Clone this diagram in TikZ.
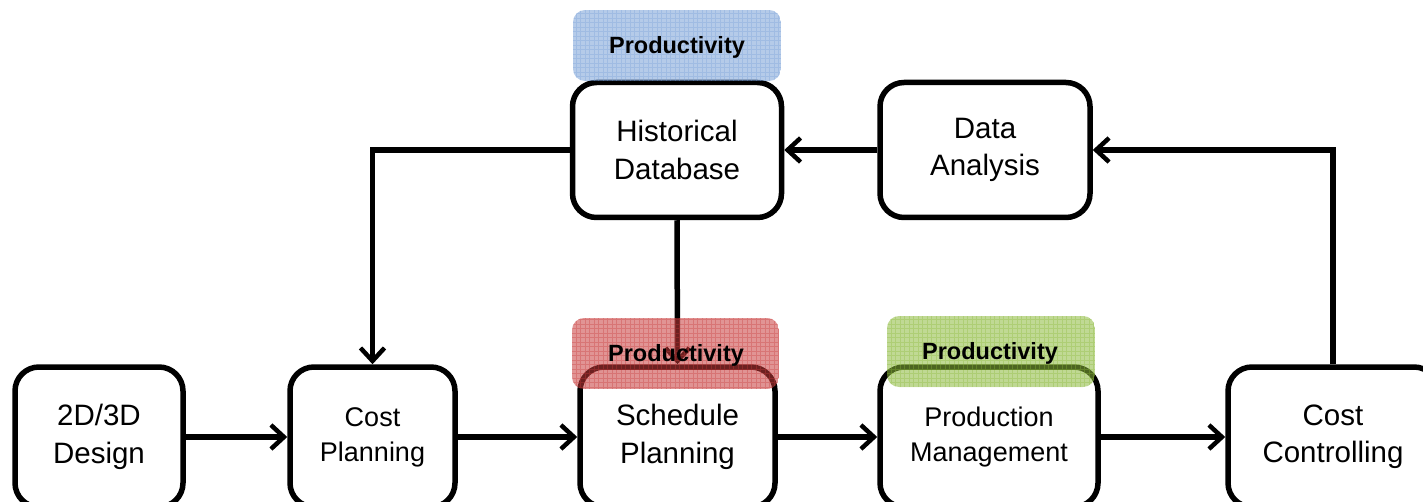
\documentclass[tikz,border=0pt]{standalone}
\usepackage{fontspec}
\setmainfont{Liberation Sans}
\usetikzlibrary{arrows.meta}
\definecolor{pblue}{RGB}{120,160,215}
\definecolor{pred}{RGB}{200,60,60}
\definecolor{pgreen}{RGB}{140,185,60}
\tikzset{
  box/.style={draw=black, line width=5.5pt, rounded corners=24pt, fill=white, align=center, inner sep=0pt},
  bigtext/.style={font=\fontsize{29.5}{37.5}\selectfont},
  smalltext/.style={font=\fontsize{27}{35}\selectfont},
  conn/.style={line width=5.5pt, -{Straight Barb[length=13pt,width=24pt,line width=4.5pt]}},
  prodlbl/.style={font=\fontsize{23.5}{28}\selectfont\bfseries}
}
\newcommand{\prodpatch}[5]{%
  \begin{scope}
    \clip[rounded corners=12pt] (#1,#2) rectangle (#3,#4);
    \fill[#5, opacity=0.55] (#1,#2) rectangle (#3,#4);
    \draw[#5, opacity=0.35, line width=0.8pt, step=4.5pt] (#1,#2) grid (#3,#4);
  \end{scope}}
\begin{document}
\begin{tikzpicture}[x=1pt,y=-1pt]
\useasboundingbox (0,0) rectangle (1423,502);
% nodes
\node[box, bigtext, minimum width=168pt, minimum height=140pt] (design) at (99,437) {2D/3D\\Design};
\node[box, smalltext, minimum width=165pt, minimum height=140pt] (costp) at (372.5,437) {Cost\\Planning};
\node[box, bigtext, minimum width=195pt, minimum height=140pt] (sched) at (677.5,437) {Schedule\\Planning};
\node[box, smalltext, minimum width=218pt, minimum height=140pt] (prod) at (989,437) {Production\\Management};
\node[box, bigtext, minimum width=210pt, minimum height=140pt] (costc) at (1333,437) {Cost\\Controlling};
\node[box, bigtext, minimum width=209pt, minimum height=135pt] (hist) at (677,150) {Historical\\Database};
\node[box, bigtext, minimum width=210pt, minimum height=135pt] (data) at (985,150) {Data\\Analysis};
% connectors
\draw[conn] (design.east) -- (costp.west);
\draw[conn] (costp.east) -- (sched.west);
\draw[conn] (sched.east) -- (prod.west);
\draw[conn] (prod.east) -- (costc.west);
\draw[conn] (costc.north) |- (data.east);
\draw[conn] (data.west) -- (hist.east);
\draw[conn] (hist.west) -| (costp.north);
\draw[conn] (hist.south) -- (sched.north);
% productivity patches
\prodpatch{573}{10}{781}{81}{pblue}
\prodpatch{572}{318}{779}{389}{pred}
\prodpatch{887}{316}{1095}{387}{pgreen}
\node[prodlbl] (p1) at (677,47) {Productivity};
\node[prodlbl] (p2) at (676,355) {Productivity};
\node[prodlbl] (p3) at (990,353) {Productivity};
\end{tikzpicture}
\end{document}
